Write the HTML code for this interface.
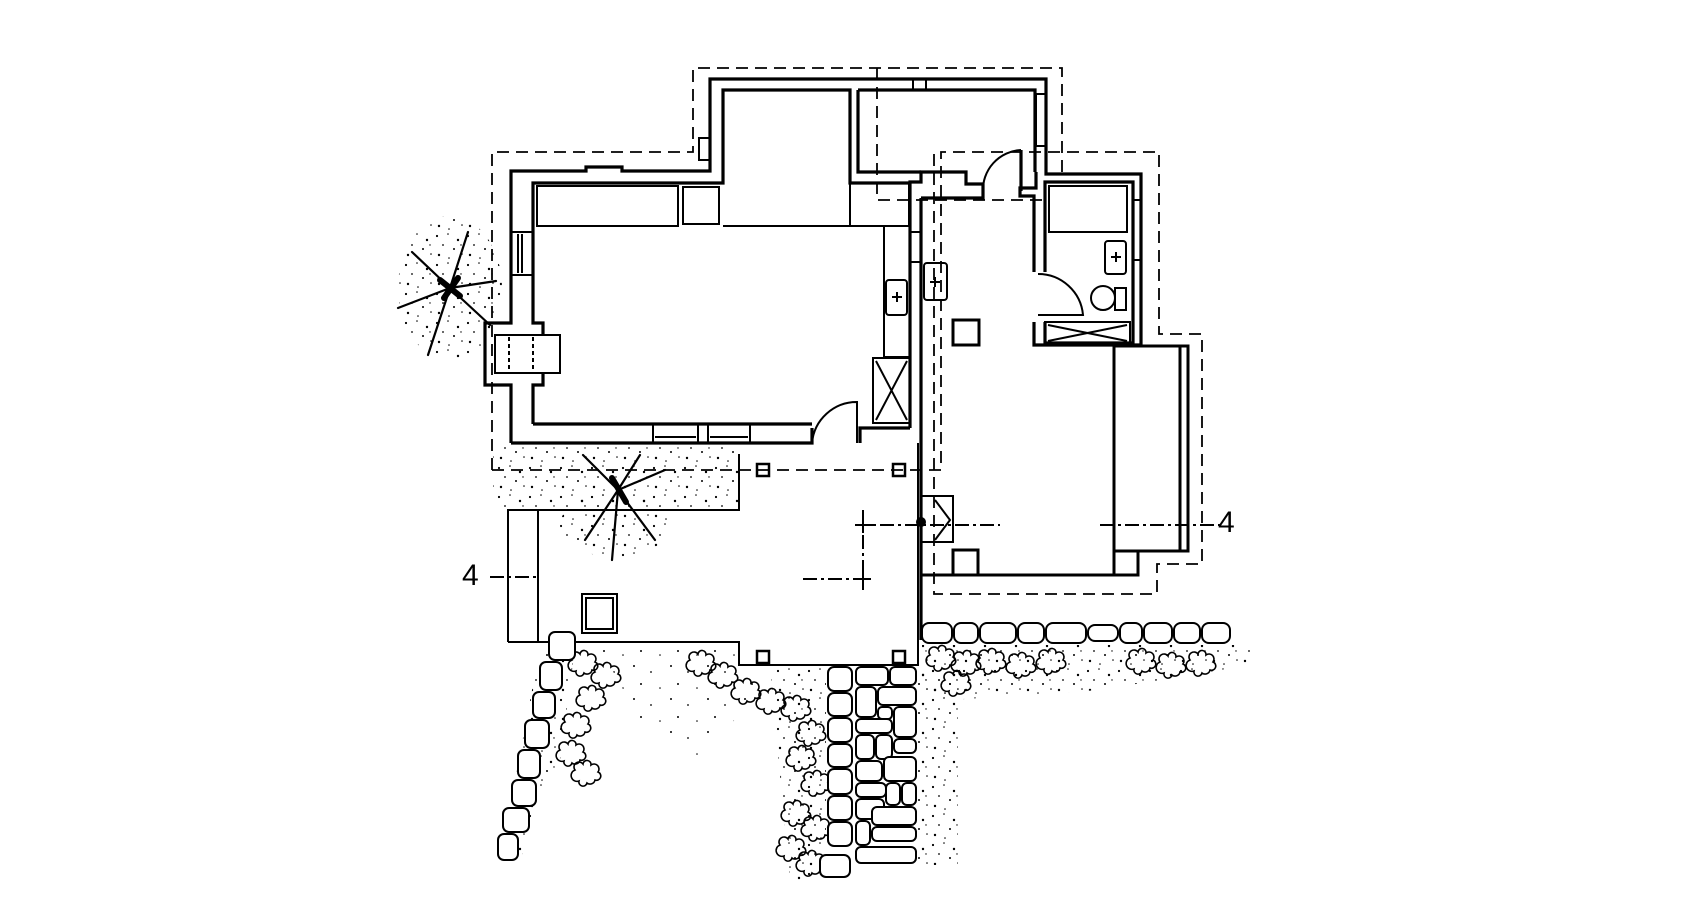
<!DOCTYPE html>
<html><head><meta charset="utf-8">
<style>
html,body{margin:0;padding:0;background:#fff;}
svg{display:block;}
</style></head>
<body>
<svg xmlns="http://www.w3.org/2000/svg" width="1700" height="921" viewBox="0 0 1700 921">
<defs>
<pattern id="dp" width="31" height="29" patternUnits="userSpaceOnUse">
<circle cx="3" cy="4" r="1.1"/><circle cx="14" cy="2" r="0.8"/><circle cx="24" cy="8" r="1.2"/>
<circle cx="9" cy="13" r="0.9"/><circle cx="20" cy="17" r="1"/><circle cx="28" cy="22" r="0.8"/>
<circle cx="5" cy="23" r="1.2"/><circle cx="15" cy="26" r="0.8"/><circle cx="27" cy="13" r="0.7"/>
</pattern>
<pattern id="dp2" width="37" height="33" patternUnits="userSpaceOnUse">
<circle cx="5" cy="6" r="1"/><circle cx="22" cy="12" r="0.9"/><circle cx="12" cy="24" r="1"/><circle cx="31" cy="28" r="0.8"/>
</pattern>
<path id="cl" d="M0,10 a5,5 0 0 1 8,-6 a4,4 0 0 1 8,1 a5,5 0 0 1 7,7 a4,4 0 0 1 -3,8 a5,5 0 0 1 -8,3 a4,4 0 0 1 -8,-2 a4,4 0 0 1 -4,-11z"/>
</defs>
<rect width="1700" height="921" fill="#fff"/>
<!-- stipple -->
<rect x="493" y="444" width="246" height="66" fill="url(#dp)"/>
<ellipse cx="450" cy="288" rx="52" ry="72" fill="url(#dp)"/>
<ellipse cx="615" cy="525" rx="55" ry="32" fill="url(#dp)"/>
<path d="M540,648 L575,648 L560,760 L520,860 L500,860 Z" fill="url(#dp)"/>
<path d="M770,668 L826,668 L826,880 L790,880 Z" fill="url(#dp)"/>
<rect x="918" y="665" width="40" height="200" fill="url(#dp)"/>
<path d="M922,645 L1250,645 L1250,665 L1100,690 L950,700 L922,690 Z" fill="url(#dp)"/>
<path d="M600,648 L739,648 L739,670 L760,690 L700,760 L640,720 Z" fill="url(#dp2)"/>
<!-- shrubs -->
<g fill="none" stroke="#000" stroke-width="1.6">
<use href="#cl" x="572" y="650"/><use href="#cl" x="595" y="662"/><use href="#cl" x="580" y="685"/>
<use href="#cl" x="565" y="712"/><use href="#cl" x="560" y="740"/><use href="#cl" x="575" y="760"/>
<use href="#cl" x="690" y="650"/><use href="#cl" x="712" y="662"/><use href="#cl" x="735" y="678"/>
<use href="#cl" x="760" y="688"/><use href="#cl" x="785" y="695"/><use href="#cl" x="800" y="720"/>
<use href="#cl" x="790" y="745"/><use href="#cl" x="805" y="770"/><use href="#cl" x="785" y="800"/>
<use href="#cl" x="805" y="815"/><use href="#cl" x="780" y="835"/><use href="#cl" x="800" y="850"/>
<use href="#cl" x="930" y="645"/><use href="#cl" x="955" y="650"/><use href="#cl" x="945" y="670"/>
<use href="#cl" x="980" y="648"/><use href="#cl" x="1010" y="652"/><use href="#cl" x="1040" y="648"/>
<use href="#cl" x="1130" y="648"/><use href="#cl" x="1160" y="652"/><use href="#cl" x="1190" y="650"/>
</g>
<g fill="none" stroke="#000" stroke-linejoin="miter">
<g stroke-width="1.8" stroke-dasharray="12,7">
<path d="M492,470 L492,152 L693,152 L693,68 L1062,68 L1062,174"/>
<path d="M877,68 L877,200 L1042,200"/>
<path d="M492,470 L941,470 L941,152 L1159,152 L1159,334 L1202,334 L1202,564 L1157,564 L1157,594 L934,594 L934,152"/>
</g>
<g stroke-width="3.2">
<path d="M511,443 L511,385 L485,385 L485,323 L511,323 L511,171 L586,171 L586,167 L622,167 L622,171 L710,171 L710,79 L1046,79 L1046,174 L1141,174 L1141,345 L1034,345 L1034,322"/>
<path d="M1034,272 L1034,196 L1020,196 L1020,188 L1036,188 L1036,172"/>
<path d="M511,443 L812,443 L812,428"/>
<path d="M860,443 L860,428 L910,428"/>
<path d="M921,198 L921,640"/>
<path d="M921,198 L983,198 L983,184 L966,184 L966,172 L921,172 L921,182 L910,182 L910,428"/>
<path d="M858,90 L858,172 L921,172"/>
<path d="M858,90 L1035,90 L1035,172"/>
<path d="M533,424 L533,385 L543,385 L543,373 M543,335 L543,323 L533,323 L533,183 L723,183 L723,90 L850,90 L850,183 L910,183"/>
<path d="M533,424 L812,424"/>
<path d="M1045,272 L1045,182 L1133,182 L1133,343 L1045,343 L1045,322"/>
<path d="M1021,150 L1021,191"/>
</g>
<g stroke-width="2">
<rect x="537" y="186" width="141" height="40"/>
<rect x="683" y="187" width="36" height="37"/>
<path d="M723,226 L850,226 L850,90"/>
<rect x="850" y="183" width="59" height="43"/>
<rect x="884" y="226" width="26" height="131"/>
<rect x="886" y="280" width="21" height="35" rx="3"/>
<path d="M892,297 h10 M897,292 v10"/>
<rect x="873" y="358" width="37" height="65"/>
<path d="M876,361 L907,420 M907,361 L876,420"/>
<rect x="495" y="335" width="65" height="38"/>
<path d="M509,337 v34 M533,337 v34" stroke-dasharray="4,3"/>
<rect x="511" y="232" width="22" height="43"/>
<path d="M518,234 v39 M522,234 v39"/>
<rect x="653" y="424" width="45" height="19"/>
<rect x="708" y="424" width="42" height="19"/>
<path d="M655,437 h41 M710,437 h38"/>
<rect x="698" y="424" width="10" height="19"/>
<rect x="913" y="79" width="13" height="11"/>
<rect x="1036" y="94" width="10" height="52"/>
<rect x="1133" y="200" width="8" height="60"/>
<rect x="699" y="138" width="11" height="22"/>
<rect x="910" y="232" width="11" height="30"/>
<path d="M812,443 A45,45 0 0 1 857,402 L857,443"/>
<path d="M983,192 A40,40 0 0 1 1021,150"/>
<path d="M1038,274 A45,45 0 0 1 1083,315 L1038,315"/>
<rect x="1049" y="186" width="78" height="46"/>
<rect x="1105" y="241" width="21" height="33" rx="3"/>
<path d="M1111,257 h10 M1116,252 v10"/>
<circle cx="1103" cy="298" r="12"/>
<rect x="1115" y="288" width="11" height="22"/>
<rect x="1045" y="322" width="85" height="21"/>
<path d="M1048,325 L1127,341 M1127,325 L1048,341"/>
<rect x="924" y="263" width="23" height="37" rx="3"/>
<path d="M930,282 h10 M935,277 v10"/>
<rect x="953" y="320" width="26" height="25" stroke-width="3"/>
<path d="M1114,346 L1188,346 L1188,551 L1114,551 Z" stroke-width="3"/>
<path d="M1180,346 V551" stroke-width="3"/>
<rect x="1114" y="551" width="24" height="24" stroke-width="3"/>
<rect x="953" y="550" width="25" height="25" stroke-width="3"/>
<path d="M921,575 L1138,575" stroke-width="3"/>
<rect x="921" y="496" width="32" height="46"/>
<path d="M935,500 L950,520 L935,540"/>
<circle cx="921" cy="522" r="4" fill="#000"/>
<path d="M508,642 L508,510 L739,510 L739,454 M538,510 V642 M508,642 L739,642 L739,665 L918,665 L918,443"/>
<rect x="582" y="594" width="35" height="39"/>
<rect x="586" y="598" width="27" height="31"/>
<g stroke-width="2.5">
<rect x="757" y="464" width="12" height="12"/><rect x="893" y="464" width="12" height="12"/>
<rect x="757" y="651" width="12" height="12"/><rect x="893" y="651" width="12" height="12"/>
</g>
<path d="M855,525 L1000,525 M803,579 L863,579 M863,510 L863,590 M490,577 L540,577 M1100,525 L1220,525" stroke-dasharray="14,4,3,4"/>
<path d="M855,525 h18 M863,517 v16 M855,579 h16 M863,571 v16"/>
</g>
</g>
<text x="462" y="585" font-family="Liberation Sans, sans-serif" font-size="30" fill="#000">4</text>
<text x="1218" y="532" font-family="Liberation Sans, sans-serif" font-size="30" fill="#000">4</text>
<g stroke="#000" stroke-width="2.2" fill="none" stroke-linecap="round">
<path d="M450,288 L412,252 M450,288 L468,232 M450,288 L496,281 M450,288 L398,308 M450,288 L428,355 M450,288 L490,325"/>
<path d="M440,280 L460,296 M444,298 L458,278" stroke-width="6"/>
<path d="M618,490 L583,455 M618,490 L640,455 M618,490 L665,470 M618,490 L585,540 M618,490 L612,560 M618,490 L655,540"/>
<path d="M612,478 L626,502" stroke-width="6"/>
</g>
<g fill="#fff" stroke="#000" stroke-width="2">
<rect x="549" y="632" width="26" height="28" rx="6"/><rect x="540" y="662" width="22" height="28" rx="6"/>
<rect x="533" y="692" width="22" height="26" rx="6"/><rect x="525" y="720" width="24" height="28" rx="6"/>
<rect x="518" y="750" width="22" height="28" rx="6"/><rect x="512" y="780" width="24" height="26" rx="6"/>
<rect x="503" y="808" width="26" height="24" rx="6"/><rect x="498" y="834" width="20" height="26" rx="6"/>
<rect x="828" y="667" width="24" height="24" rx="6"/><rect x="828" y="693" width="24" height="23" rx="6"/>
<rect x="828" y="718" width="24" height="24" rx="6"/><rect x="828" y="744" width="24" height="23" rx="6"/>
<rect x="828" y="769" width="24" height="25" rx="6"/><rect x="828" y="796" width="24" height="24" rx="6"/>
<rect x="828" y="822" width="24" height="24" rx="6"/><rect x="820" y="855" width="30" height="22" rx="6"/>
<rect x="856" y="667" width="32" height="18" rx="5"/><rect x="890" y="667" width="26" height="18" rx="5"/>
<rect x="856" y="687" width="20" height="30" rx="5"/><rect x="878" y="687" width="38" height="18" rx="5"/>
<rect x="878" y="707" width="14" height="12" rx="4"/><rect x="894" y="707" width="22" height="30" rx="5"/>
<rect x="856" y="719" width="36" height="14" rx="5"/><rect x="856" y="735" width="18" height="24" rx="5"/>
<rect x="876" y="735" width="16" height="24" rx="5"/><rect x="894" y="739" width="22" height="14" rx="5"/>
<rect x="856" y="761" width="26" height="20" rx="5"/><rect x="884" y="757" width="32" height="24" rx="5"/>
<rect x="856" y="783" width="30" height="14" rx="5"/><rect x="856" y="799" width="28" height="20" rx="5"/>
<rect x="886" y="783" width="14" height="22" rx="5"/><rect x="902" y="783" width="14" height="22" rx="5"/>
<rect x="856" y="821" width="14" height="24" rx="5"/><rect x="872" y="807" width="44" height="18" rx="5"/>
<rect x="872" y="827" width="44" height="14" rx="5"/><rect x="856" y="847" width="60" height="16" rx="5"/>
<rect x="922" y="623" width="30" height="20" rx="7"/><rect x="954" y="623" width="24" height="20" rx="7"/>
<rect x="980" y="623" width="36" height="20" rx="7"/><rect x="1018" y="623" width="26" height="20" rx="7"/>
<rect x="1046" y="623" width="40" height="20" rx="7"/><rect x="1088" y="625" width="30" height="16" rx="7"/>
<rect x="1120" y="623" width="22" height="20" rx="7"/><rect x="1144" y="623" width="28" height="20" rx="7"/>
<rect x="1174" y="623" width="26" height="20" rx="7"/><rect x="1202" y="623" width="28" height="20" rx="7"/>
</g>
</svg>
</body></html>
